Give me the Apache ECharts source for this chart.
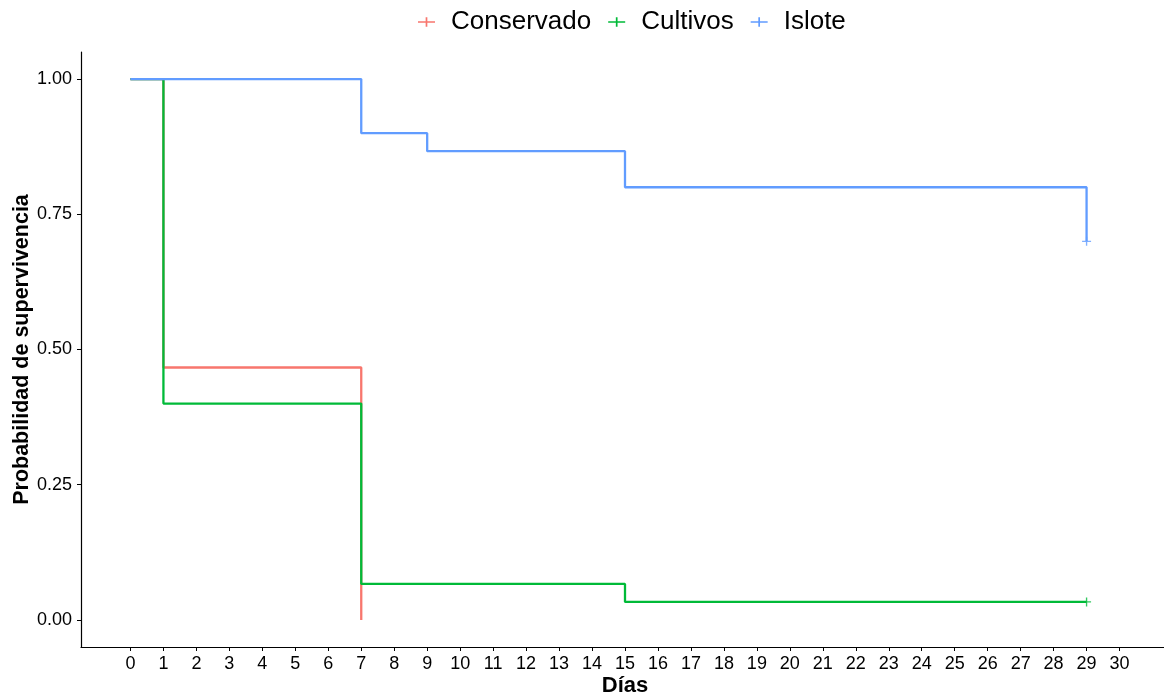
<!DOCTYPE html>
<html>
<head>
<meta charset="utf-8">
<script src="https://cdn.jsdelivr.net/npm/echarts@6/dist/echarts.min.js"></script>
<style>
  html, body { margin: 0; padding: 0; background: #fff; }
  #chart { width: 1164px; height: 695px; }
</style>
</head>
<body>
<div id="chart"></div>
<script>
// curvas de Kaplan-Meier: [día, probabilidad]
const groups = ["Conservado", "Cultivos", "Islote"];
const colors = ["#F8766D", "#00BA38", "#619CFF"];
const conservado = [[0, 1], [1, 0.4667], [7, 0]];
const cultivos = [[0, 1], [1, 0.4], [7, 0.0667], [15, 0.0333], [29, 0.0333]];
const islote = [[0, 1], [7, 0.9], [9, 0.8667], [15, 0.8], [29, 0.7]];
// observaciones censuradas (+)
const censCultivos = [[29, 0.0333]];
const censIslote = [[29, 0.7]];
const xTicks = Array.from({ length: 31 }, (_, i) => i);
const yTicks = [0, 0.25, 0.5, 0.75, 1];

const PLUS = "path://M0,4.25H4.25V0H5.75V4.25H10V5.75H5.75V10H4.25V5.75H0Z";
const LEG_ICON = "path://M0,4.4H6.3V1H7.7V4.4H14V5.6H7.7V9H6.3V5.6H0Z";

const FONT = "Liberation Sans, Arial, Helvetica, sans-serif";

function stepSeries(name, data, color) {
  return {
    name, type: "line", step: "end", data,
    symbol: "none", showSymbol: false,
    lineStyle: { color, width: 2.3 },
    itemStyle: { color },
    animation: false,
  };
}

function censorSeries(name, data, color) {
  return {
    name, type: "scatter", data,
    symbol: PLUS, symbolSize: 9,
    itemStyle: { color },
    animation: false,
  };
}

const chart = echarts.init(document.getElementById("chart"));
chart.setOption({
  backgroundColor: "#fff",
  textStyle: { fontFamily: FONT },
  legend: {
    top: 4,
    left: 413,
    itemWidth: 17,
    itemHeight: 11,
    itemGap: 17,
    data: groups.map((g) => ({ name: g, icon: LEG_ICON })),
    textStyle: { fontSize: 26, color: "#000", fontFamily: FONT, padding: [0, 0, 0, 11] },
  },
  grid: { left: 81, top: 52, height: 595, width: 1088, outerBoundsMode: "none" },
  xAxis: {
    type: "value",
    min: -1.5, max: 31.5,
    interval: 1,
    name: "Días",
    nameLocation: "middle",
    nameGap: 28,
    nameMoveOverlap: false,
    nameTextStyle: { fontSize: 22, fontWeight: "bold", color: "#000", fontFamily: FONT },
    axisLine: { onZero: false, lineStyle: { color: "#000", width: 1.2 } },
    axisTick: { length: 4, lineStyle: { color: "#000" }, customValues: xTicks },
    axisLabel: { fontSize: 18, color: "#000", margin: 8, customValues: xTicks },
    splitLine: { show: false },
  },
  yAxis: {
    type: "value",
    min: -0.05, max: 1.05,
    name: "Probabilidad de supervivencia",
    nameLocation: "middle",
    nameGap: 48,
    nameMoveOverlap: false,
    nameTextStyle: { fontSize: 21.5, fontWeight: "bold", color: "#000", fontFamily: FONT },
    axisLine: { show: true, onZero: false, lineStyle: { color: "#000", width: 1.2 } },
    axisTick: { show: true, length: 4, lineStyle: { color: "#000" }, customValues: yTicks },
    axisLabel: {
      fontSize: 18, color: "#000", margin: 9,
      customValues: yTicks,
      formatter: (v) => v.toFixed(2),
    },
    splitLine: { show: false },
  },
  series: [
    stepSeries("Conservado", conservado, colors[0]),
    stepSeries("Cultivos", cultivos, colors[1]),
    stepSeries("Islote", islote, colors[2]),
    censorSeries("Cultivos", censCultivos, colors[1]),
    censorSeries("Islote", censIslote, colors[2]),
  ],
});
</script>
</body>
</html>
